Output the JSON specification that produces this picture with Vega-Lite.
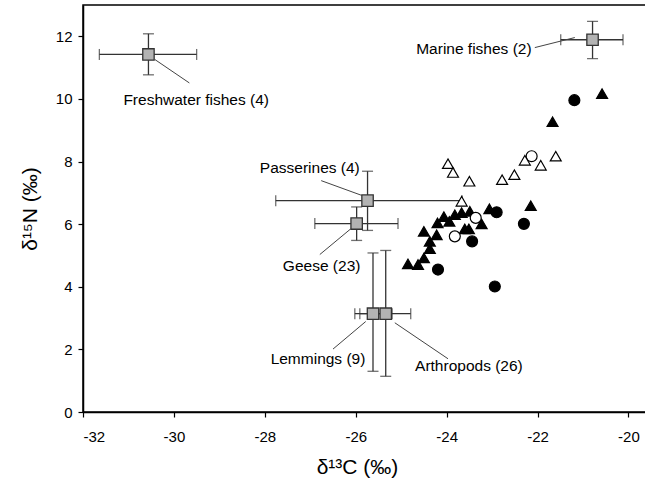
{
  "$schema": "https://vega.github.io/schema/vega-lite/v6.json",
  "width": 565,
  "height": 407,
  "autosize": "none",
  "padding": {"left": 83, "top": 5, "right": 0, "bottom": 78},
  "background": "white",
  "config": {
    "view": {"stroke": "black", "strokeWidth": 1.5},
    "font": "Liberation Sans",
    "axis": {
      "grid": false,
      "domainColor": "black",
      "domainWidth": 1.5,
      "tickColor": "black",
      "tickWidth": 1.2,
      "tickSize": 5,
      "labelFont": "Liberation Sans",
      "labelFontSize": 15,
      "labelColor": "black",
      "labelExpr": "toString(datum.value)",
      "titleFont": "Liberation Sans",
      "titleFontSize": 21,
      "titleFontWeight": "normal",
      "titleColor": "black"
    }
  },
  "datasets": {
    "groups": [
      {"name": "Freshwater fishes (4)", "x": -30.56, "y": 11.42, "xlo": -31.64, "xhi": -29.50, "ylo": 10.77, "yhi": 12.08, "lx": -29.51, "ly": 9.98, "sx": -30.42, "sy": 11.26, "ex": -29.66, "ey": 10.51},
      {"name": "Marine fishes (2)", "x": -20.79, "y": 11.89, "xlo": -21.49, "xhi": -20.12, "ylo": 11.29, "yhi": 12.48, "lx": -23.40, "ly": 11.58, "sx": -22.06, "sy": 11.64, "ex": -21.18, "ey": 11.96},
      {"name": "Passerines (4)", "x": -25.74, "y": 6.75, "xlo": -27.76, "xhi": -23.66, "ylo": 5.80, "yhi": 7.69, "lx": -27.01, "ly": 7.78, "sx": -26.76, "sy": 7.39, "ex": -25.87, "ey": 6.92},
      {"name": "Geese (23)", "x": -25.98, "y": 6.02, "xlo": -26.90, "xhi": -25.07, "ylo": 5.48, "yhi": 6.55, "lx": -26.75, "ly": 4.67, "sx": -26.79, "sy": 5.03, "ex": -26.11, "ey": 5.85},
      {"name": "Lemmings (9)", "x": -25.62, "y": 3.14, "xlo": -26.02, "xhi": -25.20, "ylo": 1.30, "yhi": 5.08, "lx": -26.83, "ly": 1.70, "sx": -26.50, "sy": 2.01, "ex": -25.78, "ey": 2.89},
      {"name": "Arthropods (26)", "x": -25.34, "y": 3.14, "xlo": -25.91, "xhi": -24.79, "ylo": 1.14, "yhi": 5.16, "lx": -23.51, "ly": 1.46, "sx": -25.14, "sy": 2.85, "ex": -23.97, "ey": 1.70}
    ],
    "points": [
      {"x": -24.85, "y": 4.73, "shape": "triangle", "fill": "filled"},
      {"x": -24.63, "y": 4.71, "shape": "triangle", "fill": "filled"},
      {"x": -24.50, "y": 4.92, "shape": "triangle", "fill": "filled"},
      {"x": -24.37, "y": 5.22, "shape": "triangle", "fill": "filled"},
      {"x": -24.37, "y": 5.45, "shape": "triangle", "fill": "filled"},
      {"x": -24.50, "y": 5.77, "shape": "triangle", "fill": "filled"},
      {"x": -24.22, "y": 5.66, "shape": "triangle", "fill": "filled"},
      {"x": -24.20, "y": 6.04, "shape": "triangle", "fill": "filled"},
      {"x": -24.06, "y": 6.24, "shape": "triangle", "fill": "filled"},
      {"x": -23.94, "y": 6.09, "shape": "triangle", "fill": "filled"},
      {"x": -23.82, "y": 6.30, "shape": "triangle", "fill": "filled"},
      {"x": -23.67, "y": 6.37, "shape": "triangle", "fill": "filled"},
      {"x": -23.49, "y": 6.41, "shape": "triangle", "fill": "filled"},
      {"x": -23.60, "y": 5.85, "shape": "triangle", "fill": "filled"},
      {"x": -23.51, "y": 5.85, "shape": "triangle", "fill": "filled"},
      {"x": -23.23, "y": 6.01, "shape": "triangle", "fill": "filled"},
      {"x": -23.06, "y": 6.49, "shape": "triangle", "fill": "filled"},
      {"x": -22.15, "y": 6.59, "shape": "triangle", "fill": "filled"},
      {"x": -21.67, "y": 9.27, "shape": "triangle", "fill": "filled"},
      {"x": -20.58, "y": 10.17, "shape": "triangle", "fill": "filled"},
      {"x": -22.90, "y": 6.38, "shape": "circle", "fill": "filled"},
      {"x": -22.30, "y": 6.01, "shape": "circle", "fill": "filled"},
      {"x": -23.44, "y": 5.45, "shape": "circle", "fill": "filled"},
      {"x": -24.19, "y": 4.55, "shape": "circle", "fill": "filled"},
      {"x": -22.94, "y": 4.01, "shape": "circle", "fill": "filled"},
      {"x": -21.19, "y": 9.96, "shape": "circle", "fill": "filled"},
      {"x": -23.82, "y": 5.61, "shape": "circle", "fill": "open"},
      {"x": -23.36, "y": 6.20, "shape": "circle", "fill": "open"},
      {"x": -22.13, "y": 8.17, "shape": "circle", "fill": "open"},
      {"x": -23.97, "y": 7.93, "shape": "triangle", "fill": "open"},
      {"x": -23.86, "y": 7.65, "shape": "triangle", "fill": "open"},
      {"x": -23.50, "y": 7.37, "shape": "triangle", "fill": "open"},
      {"x": -22.78, "y": 7.42, "shape": "triangle", "fill": "open"},
      {"x": -22.51, "y": 7.58, "shape": "triangle", "fill": "open"},
      {"x": -22.28, "y": 8.04, "shape": "triangle", "fill": "open"},
      {"x": -21.93, "y": 7.88, "shape": "triangle", "fill": "open"},
      {"x": -21.60, "y": 8.17, "shape": "triangle", "fill": "open"},
      {"x": -23.67, "y": 6.73, "shape": "triangle", "fill": "open"}
    ]
  },
  "layer": [
    {
      "data": {"name": "groups"},
      "mark": {"type": "rule", "color": "#333333", "strokeWidth": 1.3},
      "encoding": {
        "x": {"field": "xlo", "type": "quantitative", "scale": {"domain": [-32, -19.57], "nice": false, "zero": false},
          "axis": {"values": [-32, -30, -28, -26, -24, -22, -20], "title": "δ¹³C (‰)", "labelPadding": 12, "titleX": 274, "titleY": 55, "titleBaseline": "middle"}},
        "x2": {"field": "xhi"},
        "y": {"field": "y", "type": "quantitative", "scale": {"domain": [0, 13], "nice": false, "zero": false},
          "axis": {"values": [0, 2, 4, 6, 8, 10, 12], "title": "δ¹⁵N (‰)", "labelPadding": 6, "titleX": -53, "titleBaseline": "middle"}}
      }
    },
    {
      "data": {"name": "groups"},
      "mark": {"type": "rule", "color": "#333333", "strokeWidth": 1.3},
      "encoding": {
        "x": {"field": "x", "type": "quantitative"},
        "y": {"field": "ylo", "type": "quantitative"},
        "y2": {"field": "yhi"}
      }
    },
    {
      "data": {"name": "groups"},
      "mark": {"type": "tick", "orient": "vertical", "color": "#333333", "size": 11, "thickness": 1.3},
      "encoding": {"x": {"field": "xlo", "type": "quantitative"}, "y": {"field": "y", "type": "quantitative"}}
    },
    {
      "data": {"name": "groups"},
      "mark": {"type": "tick", "orient": "vertical", "color": "#333333", "size": 11, "thickness": 1.3},
      "encoding": {"x": {"field": "xhi", "type": "quantitative"}, "y": {"field": "y", "type": "quantitative"}}
    },
    {
      "data": {"name": "groups"},
      "mark": {"type": "tick", "orient": "horizontal", "color": "#333333", "size": 11, "thickness": 1.3},
      "encoding": {"x": {"field": "x", "type": "quantitative"}, "y": {"field": "ylo", "type": "quantitative"}}
    },
    {
      "data": {"name": "groups"},
      "mark": {"type": "tick", "orient": "horizontal", "color": "#333333", "size": 11, "thickness": 1.3},
      "encoding": {"x": {"field": "x", "type": "quantitative"}, "y": {"field": "yhi", "type": "quantitative"}}
    },
    {
      "data": {"name": "groups"},
      "mark": {"type": "rule", "color": "#444444", "strokeWidth": 1},
      "encoding": {
        "x": {"field": "sx", "type": "quantitative"},
        "y": {"field": "sy", "type": "quantitative"},
        "x2": {"field": "ex"},
        "y2": {"field": "ey"}
      }
    },
    {
      "data": {"name": "groups"},
      "mark": {"type": "point", "shape": "square", "filled": true, "fill": "#b3b3b3", "stroke": "#333333", "strokeWidth": 1.3, "size": 130, "opacity": 1},
      "encoding": {"x": {"field": "x", "type": "quantitative"}, "y": {"field": "y", "type": "quantitative"}}
    },
    {
      "data": {"name": "points"},
      "mark": {"type": "point", "stroke": "black", "strokeWidth": 1.2, "opacity": 1, "size": 120},
      "encoding": {
        "x": {"field": "x", "type": "quantitative"},
        "y": {"field": "y", "type": "quantitative"},
        "shape": {"field": "shape", "type": "nominal", "scale": {"domain": ["triangle", "circle"], "range": ["triangle-up", "circle"]}, "legend": null},
        "fill": {"field": "fill", "type": "nominal", "scale": {"domain": ["filled", "open"], "range": ["black", "white"]}, "legend": null}
      }
    },
    {
      "data": {"name": "groups"},
      "mark": {"type": "text", "font": "Liberation Sans", "fontSize": 15.5, "color": "black", "align": "center", "baseline": "middle"},
      "encoding": {
        "x": {"field": "lx", "type": "quantitative"},
        "y": {"field": "ly", "type": "quantitative"},
        "text": {"field": "name", "type": "nominal"}
      }
    }
  ]
}
